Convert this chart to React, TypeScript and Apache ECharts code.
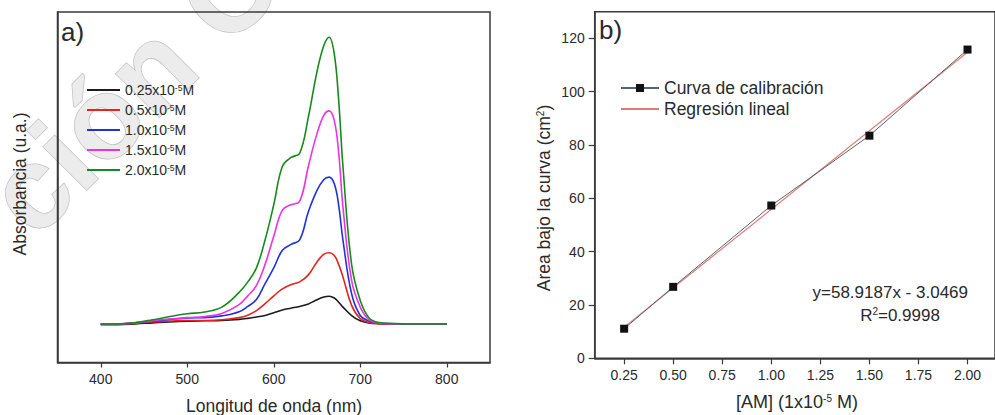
import React, { useEffect, useRef } from "react";
import * as echarts from "echarts";

// ---------- data ----------
const wavelengths = [400, 420, 440, 460, 480, 500, 520, 540, 560, 570, 580, 590, 600, 610, 620, 630, 640, 650, 658, 664, 670, 675, 680, 690, 700, 710, 720, 740, 760, 800];
const abs025 = [0.108, 0.108, 0.11, 0.113, 0.116, 0.118, 0.119, 0.12, 0.123, 0.126, 0.13, 0.134, 0.142, 0.15, 0.155, 0.16, 0.167, 0.179, 0.187, 0.189, 0.184, 0.172, 0.158, 0.134, 0.119, 0.113, 0.111, 0.11, 0.11, 0.11];
const abs05 = [0.11, 0.11, 0.112, 0.116, 0.118, 0.12, 0.12, 0.122, 0.128, 0.135, 0.148, 0.168, 0.19, 0.21, 0.222, 0.23, 0.25, 0.287, 0.309, 0.313, 0.305, 0.28, 0.244, 0.163, 0.125, 0.114, 0.111, 0.11, 0.11, 0.11];
const abs10 = [0.11, 0.11, 0.113, 0.118, 0.123, 0.127, 0.128, 0.133, 0.145, 0.16, 0.18, 0.225, 0.27, 0.32, 0.337, 0.35, 0.43, 0.491, 0.522, 0.529, 0.51, 0.45, 0.349, 0.196, 0.134, 0.118, 0.112, 0.11, 0.11, 0.11];
const abs15 = [0.11, 0.11, 0.113, 0.119, 0.124, 0.128, 0.131, 0.14, 0.165, 0.19, 0.22, 0.28, 0.36, 0.435, 0.45, 0.46, 0.56, 0.653, 0.706, 0.718, 0.69, 0.6, 0.444, 0.234, 0.158, 0.122, 0.113, 0.11, 0.11, 0.11];
const abs20 = [0.11, 0.11, 0.114, 0.122, 0.131, 0.139, 0.144, 0.158, 0.2, 0.23, 0.27, 0.35, 0.45, 0.56, 0.585, 0.597, 0.7, 0.83, 0.905, 0.928, 0.88, 0.75, 0.56, 0.28, 0.177, 0.128, 0.115, 0.111, 0.11, 0.11];
const concLabels = ["0.25", "0.5", "1.0", "1.5", "2.0"];
const spectra = [abs025, abs05, abs10, abs15, abs20];

const xTicksA = [400, 500, 600, 700, 800];

const calibX = [0.25, 0.5, 1.0, 1.5, 2.0];
const calibY = [11.1, 26.8, 57.3, 83.5, 115.8];
const regX = [0.25, 2.0];
const regY = [11.7, 114.8];
const xTicksB = [0.25, 0.5, 0.75, 1.0, 1.25, 1.5, 1.75, 2.0];

const equationText = "y=58.9187x - 3.0469";
const r2Value = "0.9998";
const watermarkText = "ción C";

// ---------- styles ----------
const FONT = "'Liberation Sans', Arial, Helvetica, sans-serif";
const spectraColors = ["#1b1b1b", "#e5241f", "#1f33d8", "#ec32e6", "#178a1c"];
const AXIS = "#3a3a3a";
const TXT = "#2a2a2a";

export default function App() {
  const ref = useRef<HTMLDivElement>(null);

  useEffect(() => {
    if (!ref.current) return;
    const chart = echarts.init(ref.current, undefined, { renderer: "svg" });

    const supRich = {
      sup: { fontSize: 8.5, fontFamily: FONT, color: TXT, verticalAlign: "top", lineHeight: 8, padding: [0, 0, 7, 0] },
    };
    const supRichBig = { sup: { fontSize: 10, fontFamily: FONT, fill: TXT, verticalAlign: "top", lineHeight: 10, padding: [0, 0, 8, 0] } };

    const spectraSeries = spectra.map((arr, i) => ({
      name: concLabels[i] + "x10-5M",
      type: "line",
      xAxisIndex: 0,
      yAxisIndex: 0,
      data: wavelengths.map((w, j) => [w, arr[j]]),
      smooth: 0.4,
      symbol: "none",
      lineStyle: { color: spectraColors[i], width: 1.6 },
      itemStyle: { color: spectraColors[i] },
      z: 2 + i,
    }));

    const option: any = {
      animation: false,
      textStyle: { fontFamily: FONT },
      grid: [
        { left: 57.5, top: 12, width: 432.5, height: 350.5, show: true, borderColor: AXIS, borderWidth: 1.5, backgroundColor: "transparent" },
        { left: 594.7, top: 11.7, width: 403, height: 346.6, show: true, borderColor: AXIS, borderWidth: 1.5, backgroundColor: "transparent" },
      ],
      xAxis: [
        {
          gridIndex: 0, type: "value", min: 350, max: 850,
          axisLine: { show: true, lineStyle: { color: AXIS, width: 1.5 } },
          axisTick: { show: true, inside: false, length: 5, customValues: xTicksA, lineStyle: { color: AXIS, width: 1.2 } },
          axisLabel: { customValues: xTicksA, fontSize: 14, color: TXT, margin: 9, fontFamily: FONT },
          splitLine: { show: false },
        },
        {
          gridIndex: 1, type: "value", min: 0.1, max: 2.14,
          axisLine: { show: true, lineStyle: { color: AXIS, width: 1.5 } },
          axisTick: { show: true, inside: false, length: 6, customValues: xTicksB, lineStyle: { color: AXIS, width: 1.2 } },
          axisLabel: { customValues: xTicksB, fontSize: 14, color: TXT, margin: 10, fontFamily: FONT, formatter: (v: number) => v.toFixed(2) },
          splitLine: { show: false },
        },
      ],
      yAxis: [
        {
          gridIndex: 0, type: "value", min: 0, max: 1,
          axisLine: { show: true, lineStyle: { color: AXIS, width: 1.5 } },
          axisTick: { show: false },
          axisLabel: { show: false },
          splitLine: { show: false },
        },
        {
          gridIndex: 1, type: "value", min: 0, max: 130, interval: 20,
          axisLine: { show: true, lineStyle: { color: AXIS, width: 1.5 } },
          axisTick: { show: true, inside: false, length: 6, lineStyle: { color: AXIS, width: 1.2 } },
          axisLabel: { fontSize: 14, color: TXT, margin: 10, fontFamily: FONT, showMaxLabel: false },
          splitLine: { show: false },
        },
      ],
      legend: [
        {
          orient: "vertical",
          left: 86,
          top: 83,
          padding: 0,
          itemWidth: 33,
          itemHeight: 14,
          itemGap: 4,
          data: spectraSeries.map((s) => s.name),
          formatter: (name: string) => name.replace("x10-5M", "") + "x10{sup|-5}M",
          textStyle: { fontSize: 14, color: TXT, fontFamily: FONT, rich: supRich },
          itemStyle: { opacity: 0 },
          lineStyle: { width: 2 },
        },
        {
          orient: "vertical",
          left: 620,
          top: 79,
          padding: 0,
          itemWidth: 38,
          itemHeight: 10,
          itemGap: 3,
          data: [
            { name: "Curva de calibración" },
            { name: "Regresión lineal", itemStyle: { opacity: 0 } },
          ],
          textStyle: { fontSize: 17.5, color: TXT, fontFamily: FONT },
        },
      ],
      series: [
        ...spectraSeries,
        {
          name: "Regresión lineal",
          type: "line",
          xAxisIndex: 1,
          yAxisIndex: 1,
          data: regX.map((x, i) => [x, regY[i]]),
          symbol: "none",
          lineStyle: { color: "#df7a7c", width: 1.2 },
          itemStyle: { color: "#df7a7c" },
          z: 3,
        },
        {
          name: "Curva de calibración",
          type: "line",
          xAxisIndex: 1,
          yAxisIndex: 1,
          data: calibX.map((x, i) => [x, calibY[i]]),
          symbol: "rect",
          symbolSize: 8,
          lineStyle: { color: "#55656a", width: 1 },
          itemStyle: { color: "#111111" },
          z: 4,
        },
      ],
      graphic: [
        {
          type: "text",
          z: -10,
          silent: true,
          x: 48,
          y: 254,
          rotation: Math.PI / 4,
          style: { text: watermarkText, font: "bold 116px " + FONT, fill: "#ececec", stroke: "#c2c2c2", lineWidth: 1.5, verticalAlign: "bottom" },
        },
        { type: "text", x: 61, y: 19, style: { text: "a)", font: "26px " + FONT, fill: TXT } },
        { type: "text", x: 599, y: 17, style: { text: "b)", font: "26px " + FONT, fill: TXT } },
        {
          type: "text", x: 274, y: 406,
          style: { text: "Longitud de onda (nm)", font: "17.5px " + FONT, fill: TXT, align: "center", verticalAlign: "middle" },
        },
        {
          type: "text", x: 20, y: 184, rotation: Math.PI / 2,
          style: { text: "Absorbancia (u.a.)", font: "17.5px " + FONT, fill: TXT, align: "center", verticalAlign: "middle" },
        },
        {
          type: "text", x: 797, y: 402,
          style: { text: "[AM] (1x10{sup|-5} M)", font: "18px " + FONT, fill: TXT, align: "center", verticalAlign: "middle", rich: supRichBig },
        },
        {
          type: "text", x: 544, y: 198, rotation: Math.PI / 2,
          style: { text: "Area bajo la curva (cm{sup|2})", font: "17.5px " + FONT, fill: TXT, align: "center", verticalAlign: "middle", rich: supRichBig },
        },
        {
          type: "text", x: 968, y: 292,
          style: { text: equationText, font: "17px " + FONT, fill: TXT, align: "right", verticalAlign: "middle" },
        },
        {
          type: "text", x: 900, y: 315,
          style: { text: "R{sup|2}=" + r2Value, font: "17px " + FONT, fill: TXT, align: "center", verticalAlign: "middle", rich: supRichBig },
        },
      ],
    };

    chart.setOption(option);
    return () => chart.dispose();
  }, []);

  return (
    <div
      ref={ref}
      style={{ position: "absolute", left: 0, top: 0, width: 995, height: 415, background: "#fff", overflow: "hidden" }}
    />
  );
}
